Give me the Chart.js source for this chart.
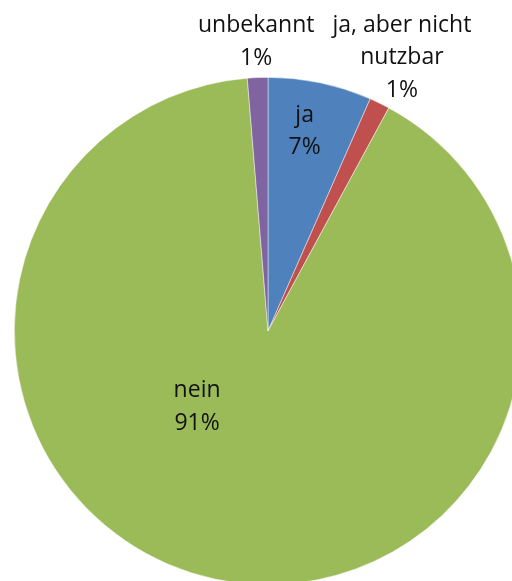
<!DOCTYPE html>
<html lang="de">
<head>
    <meta charset="UTF-8">
    <title>Pie</title>
    <script src="https://cdn.jsdelivr.net/npm/chart.js"></script>
    <style>
        html, body {
            margin: 0;
            padding: 0;
            background: #ffffff;
            overflow: hidden;
            width: 512px;
            height: 581px;
        }
        #wrap {
            position: absolute;
            left: 0;
            top: 0;
            width: 560px;
            height: 660px;
        }
    </style>
</head>
<body>
    <div id="wrap"><canvas id="pie" width="560" height="660"></canvas></div>

    <script>
        // slice data, clockwise from 12 o'clock
        const categories = ['ja', 'ja, aber nicht nutzbar', 'nein', 'unbekannt'];
        const labelLines = [['ja'], ['ja, aber nicht', 'nutzbar'], ['nein'], ['unbekannt']];
        const shares = [6.6, 1.3, 90.8, 1.3];
        const sliceColors = ['#4F81BD', '#C0504D', '#9BBB59', '#8064A2'];

        // where each label sits: fraction of radius, optional angle (deg from top, clockwise)
        const labelPlace = [
            { r: 0.80, angle: 10.4 },
            { r: 1.20 },
            { r: 0.41, angle: 223 },
            { r: 1.14 }
        ];

        const pieLabels = {
            id: 'pieLabels',
            afterDatasetsDraw(chart) {
                const ctx = chart.ctx;
                const meta = chart.getDatasetMeta(0);
                const total = shares.reduce((a, b) => a + b, 0);
                ctx.save();
                ctx.font = '23px "Open Sans", sans-serif';
                ctx.fillStyle = '#111111';
                ctx.textAlign = 'center';
                ctx.textBaseline = 'middle';
                meta.data.forEach((arc, i) => {
                    const p = arc.getProps(['x', 'y', 'startAngle', 'endAngle', 'outerRadius'], true);
                    let a = (p.startAngle + p.endAngle) / 2;
                    if (labelPlace[i].angle !== undefined) {
                        a = labelPlace[i].angle * Math.PI / 180 - Math.PI / 2;
                    }
                    const d = p.outerRadius * labelPlace[i].r;
                    const cx = p.x + Math.cos(a) * d;
                    const cy = p.y + Math.sin(a) * d;
                    const lines = labelLines[i].concat([Math.round(shares[i] / total * 100) + '%']);
                    const lh = 32.5;
                    const y0 = cy - (lines.length - 1) * lh / 2;
                    lines.forEach((t, k) => ctx.fillText(t, cx, y0 + k * lh));
                });
                ctx.restore();
            }
        };

        new Chart(document.getElementById('pie'), {
            type: 'pie',
            data: {
                labels: categories,
                datasets: [{
                    data: shares,
                    backgroundColor: sliceColors,
                    borderColor: 'rgba(255,255,255,0.6)',
                    borderWidth: 0.75,
                    hoverOffset: 0
                }]
            },
            options: {
                responsive: false,
                animation: false,
                layout: { padding: { left: 14, top: 77, right: 38, bottom: 75 } },
                plugins: {
                    legend: { display: false },
                    tooltip: { enabled: false }
                }
            },
            plugins: [pieLabels]
        });
    </script>
</body>
</html>
